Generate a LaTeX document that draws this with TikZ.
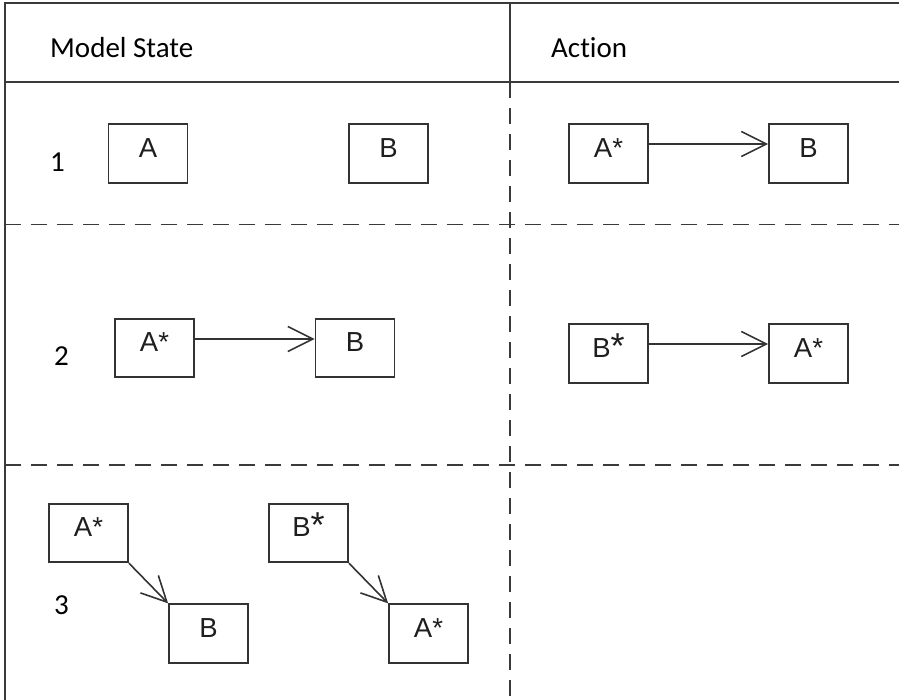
\documentclass[tikz,border=0pt]{standalone}
\usepackage{fontspec}
\setmainfont{Carlito}[Ligatures=NoCommon]
\newfontfamily\boxfont{Liberation Sans}
\usetikzlibrary{arrows.meta}
\definecolor{rule}{HTML}{3A3A3A}
\definecolor{boxline}{HTML}{333333}
\definecolor{ink}{HTML}{1E1E1E}
\tikzset{
  grid/.style={draw=rule, line width=1.9pt},
  gridsplit/.style={draw=rule, line width=1.9pt, dash pattern=on 16pt off 10pt},
  heading/.style={anchor=base west, inner sep=0pt, font=\fontsize{29}{29}\selectfont, text=black},
  rownum/.style={anchor=base west, inner sep=0pt, font=\fontsize{29}{29}\selectfont, text=black},
  classbox/.style={draw=boxline, line width=1.8pt, rectangle, inner xsep=0pt, inner ysep=0pt,
    minimum width=79pt, minimum height=58.5pt, text height=33pt, text depth=25.5pt,
    font=\boxfont\fontsize{27.5}{27.5}\selectfont, text=ink},
  assoc/.style={draw=boxline, line width=1.6pt,
    -{Straight Barb[length=25pt, width=25pt, line width=1.6pt]}}
}
\newcommand{\bigstar}{\raisebox{-1pt}{\fontsize{36}{36}\selectfont *}}
\begin{document}
\begin{tikzpicture}[x=1pt, y=-1pt]
\useasboundingbox (0,0) rectangle (899,700);

% table frame
\coordinate (tl) at (5,3);
\coordinate (tr) at (899,3);
\coordinate (bl) at (5,700);
\coordinate (hl) at (5,82);
\coordinate (hr) at (899,82);
\coordinate (mt) at (510,3);
\coordinate (mh) at (510,82);
\coordinate (mb) at (510,700);
\coordinate (r1l) at (5,224.5);
\coordinate (r1r) at (899,224.5);
\coordinate (r2l) at (5,465);
\coordinate (r2r) at (899,465);

\draw[grid] (tr) -- (tl) -- (bl);
\draw[grid] (hl) -- (hr);
\draw[grid] (mt) -- (mh);
\draw[gridsplit] (mh) -- (mb);
\draw[gridsplit] (r1l) -- (r1r);
\draw[gridsplit] (r2l) -- (r2r);

% headings
\node[heading] (hstate) at (50,57.7) {Model State};
\node[heading] (haction) at (551,57.7) {Action};

% row numbers
\node[rownum] (n1) at (50,172) {1};
\node[rownum] (n2) at (54,366) {2};
\node[rownum] (n3) at (54,614) {3};

% row 1
\node[classbox] (s1a) at (148,153.5) {A};
\node[classbox] (s1b) at (388.5,153.5) {B};
\node[classbox] (a1a) at (608.5,153.5) {A*};
\node[classbox] (a1b) at (808.5,153.5) {B};
\draw[assoc] ([yshift=9.5pt]a1a.east) -- ([yshift=9.5pt]a1b.west);

% row 2
\node[classbox] (s2a) at (154.5,348) {A*};
\node[classbox] (s2b) at (355,348) {B};
\draw[assoc] ([yshift=9pt]s2a.east) -- ([yshift=9pt]s2b.west);
\node[classbox] (a2b) at (608.5,353.5) {B\bigstar};
\node[classbox] (a2a) at (808.5,353.5) {A*};
\draw[assoc] ([yshift=9.5pt]a2b.east) -- ([yshift=9.5pt]a2a.west);

% row 3
\node[classbox] (s3a) at (88.5,533) {A*};
\node[classbox] (s3b) at (208.5,633.5) {B};
\draw[assoc] (s3a.south east) -- (s3b.north west);
\node[classbox] (s3c) at (308.5,533) {B\bigstar};
\node[classbox] (s3d) at (428.5,633.5) {A*};
\draw[assoc] (s3c.south east) -- (s3d.north west);
\end{tikzpicture}
\end{document}
